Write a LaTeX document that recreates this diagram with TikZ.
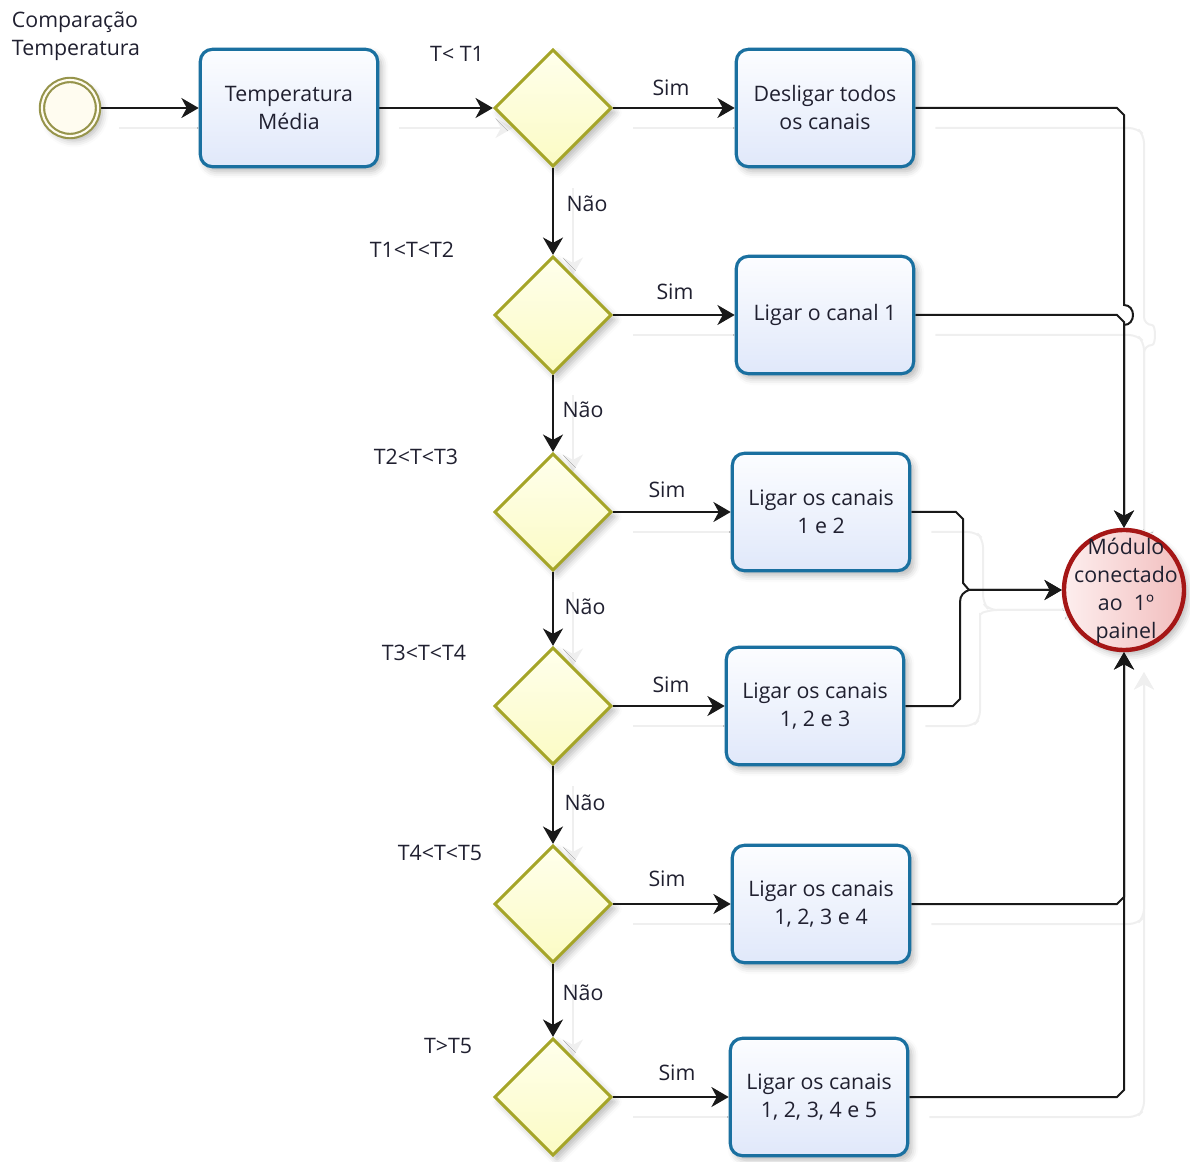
\documentclass[tikz,border=0pt]{standalone}
\usepackage{fontspec}
\setmainfont{Open Sans}
\usetikzlibrary{shapes.geometric,arrows.meta,shadows.blur}

\definecolor{taskline}{RGB}{26,112,160}
\definecolor{taskfillA}{RGB}{252,253,255}
\definecolor{taskfillB}{RGB}{224,232,250}
\definecolor{gateline}{RGB}{165,165,40}
\definecolor{gatefillA}{RGB}{255,255,236}
\definecolor{gatefillB}{RGB}{251,251,196}
\definecolor{startline}{RGB}{150,148,75}
\definecolor{startfill}{RGB}{255,252,240}
\definecolor{endline}{RGB}{165,22,22}
\definecolor{endfillA}{RGB}{253,238,238}
\definecolor{endfillB}{RGB}{242,190,190}
\definecolor{ink}{RGB}{32,32,48}
\definecolor{ghostgray}{RGB}{239,239,239}

\pgfdeclarelayer{ghost}
\pgfsetlayers{ghost,main}

\tikzset{
  soft/.style={blur shadow={shadow xshift=3pt, shadow yshift=-3.5pt,
      shadow blur radius=5pt, shadow opacity=28}},
  task/.style={rectangle, rounded corners=9pt, draw=taskline, line width=2.4pt,
      top color=taskfillA, bottom color=taskfillB, minimum width=133pt,
      minimum height=88pt, align=center, inner sep=2pt, soft},
  gate/.style={diamond, aspect=1, draw=gateline, line width=2.2pt,
      top color=gatefillA, bottom color=gatefillB, minimum width=88pt,
      minimum height=88pt, inner sep=0pt, soft},
  startev/.style={circle, draw=startline, line width=1.6pt, double=startfill,
      double distance=1.6pt, fill=startfill, minimum size=42pt, inner sep=0pt, soft},
  endev/.style={circle, draw=endline, line width=3.3pt, left color=endfillA,
      right color=endfillB, minimum size=90pt, inner sep=0pt, soft},
  lbl/.style={inner sep=1pt, text=ink},
  flow/.style={draw=black!90, line width=1.5pt,
      -{Stealth[length=13pt, width=15pt, inset=4pt]}},
  ghostflow/.style={draw=ghostgray, line width=1.5pt, rounded corners=6pt,
      -{Stealth[length=13pt, width=15pt, inset=4pt]}},
}

\begin{document}
\begin{tikzpicture}[x=0.75pt, y=-0.75pt, font=\fontsize{16}{21}\selectfont, text=ink]
\useasboundingbox (0,0) rectangle (1190,1162);

% events
\node[startev] (s) at (70,108) {};
\node[lbl, align=left] (sname) at (76,36) {Comparação\\Temperatura};
\node[endev] (e) at (1124,590) {};
\node[lbl, align=center] (ename) at (1126,591) {Módulo\\conectado\\ao~~1º\\painel};

% tasks
\node[task] (t0) at (289,108) {Temperatura\\Média};
\node[task] (a1) at (825,108) {Desligar todos\\os canais};
\node[task] (a2) at (825,315) {Ligar o canal 1};
\node[task] (a3) at (821,512) {Ligar os canais\\1 e 2};
\node[task] (a4) at (815,706) {Ligar os canais\\1, 2 e 3};
\node[task] (a5) at (821,904) {Ligar os canais\\1, 2, 3 e 4};
\node[task] (a6) at (819,1097) {Ligar os canais\\1, 2, 3, 4 e 5};

% gateways
\node[gate] (g1) at (553,108) {};
\node[gate] (g2) at (553,315) {};
\node[gate] (g3) at (553,512) {};
\node[gate] (g4) at (553,706) {};
\node[gate] (g5) at (553,904) {};
\node[gate] (g6) at (553,1097) {};

% gateway conditions
\node[lbl] (c1) at (457,54) {T<~T1};
\node[lbl] (c2) at (412,250) {T1<T<T2};
\node[lbl] (c3) at (416,457) {T2<T<T3};
\node[lbl] (c4) at (424,653) {T3<T<T4};
\node[lbl] (c5) at (440,853) {T4<T<T5};
\node[lbl] (c6) at (448,1046) {T>T5};

% branch labels
\node[lbl] (y1) at (671,88) {Sim};
\node[lbl] (y2) at (675,292) {Sim};
\node[lbl] (y3) at (667,490) {Sim};
\node[lbl] (y4) at (671,685) {Sim};
\node[lbl] (y5) at (667,879) {Sim};
\node[lbl] (y6) at (677,1073) {Sim};
\node[lbl, anchor=west] (n1) at (565,204) {Não};
\node[lbl, anchor=west] (n2) at (561,410) {Não};
\node[lbl, anchor=west] (n3) at (563,607) {Não};
\node[lbl, anchor=west] (n4) at (563,803) {Não};
\node[lbl, anchor=west] (n5) at (561,993) {Não};

% connectors, drawn once as faint offset copies and once in black
\newcommand{\allflows}[1]{%
  \draw[#1] (s.east) -- (t0.west);
  \draw[#1] (t0.east) -- (g1.west);
  \draw[#1] (g1.east) -- (a1.west);
  \draw[#1] (g2.east) -- (a2.west);
  \draw[#1] (g3.east) -- (a3.west);
  \draw[#1] (g4.east) -- (a4.west);
  \draw[#1] (g5.east) -- (a5.west);
  \draw[#1] (g6.east) -- (a6.west);
  \draw[#1] (g1.south) -- (g2.north);
  \draw[#1] (g2.south) -- (g3.north);
  \draw[#1] (g3.south) -- (g4.north);
  \draw[#1] (g4.south) -- (g5.north);
  \draw[#1] (g5.south) -- (g6.north);
  \draw[#1] (a1.east) -- (1117,108) -- (1124,115) -- (1124,305)
     .. controls (1136,305) and (1136,325) .. (1124,325) -- (e.north);
  \draw[#1] (a2.east) -- (1117,315) -- (1124,322) -- (e.north);
  \draw[#1] (a3.east) -- (956,512) -- (963,519) -- (963,583) -- (969,590) -- (e.west);
  \draw[#1] (a4.east) -- (953,706) -- (960,699) -- (960,602)
     .. controls (960,595) and (964,592) .. (969,590) -- (e.west);
  \draw[#1] (a5.east) -- (1117,904) -- (1124,897) -- (e.south);
  \draw[#1] (a6.east) -- (1117,1097) -- (1124,1090) -- (e.south);
}

\begin{pgfonlayer}{ghost}
  \begin{scope}[transform canvas={shift={(20,20)}}]
    \allflows{ghostflow}
  \end{scope}
  \allflows{flow}
\end{pgfonlayer}
\end{tikzpicture}
\end{document}
